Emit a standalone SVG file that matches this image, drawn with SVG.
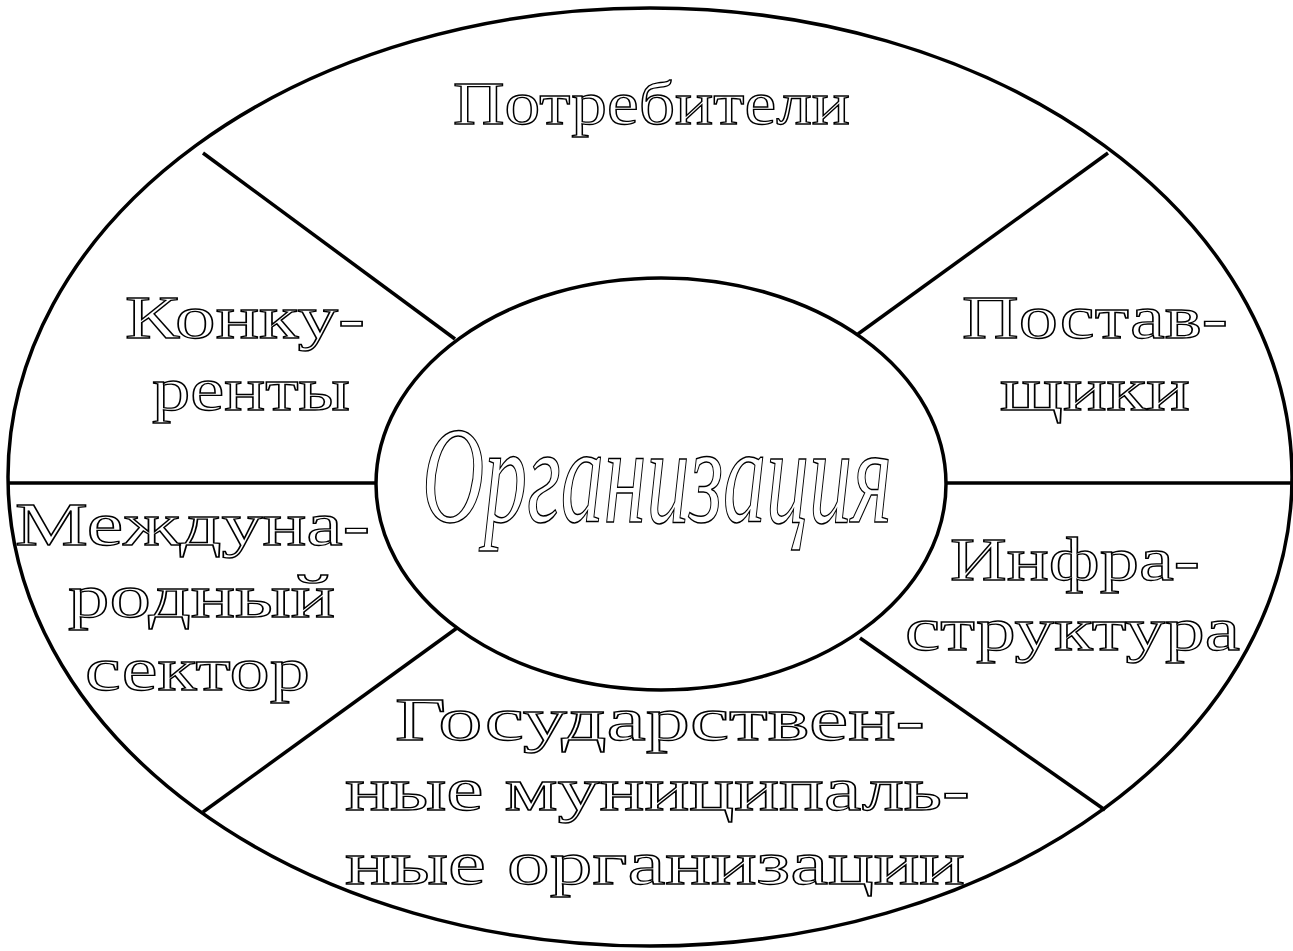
<svg xmlns="http://www.w3.org/2000/svg" width="1293" height="951" viewBox="0 0 1293 951">
<style>
.shape{fill:none;stroke:#000;stroke-width:3.5}
.conn{stroke:#000;stroke-width:3.5;fill:none}
.lbl{font-family:"Liberation Serif","DejaVu Serif",serif;font-size:61px;fill:#fff;stroke:#000;stroke-width:1.3;text-anchor:start}
.big{font-family:"Liberation Serif","DejaVu Serif",serif;font-style:italic;font-size:74px;fill:#fff;stroke:#000;stroke-width:0.8}
</style>
<rect width="1293" height="951" fill="#fff"/>
<g id="outer"><ellipse class="shape" cx="650" cy="477" rx="642" ry="469"/></g>
<g id="connectors">
<line class="conn" x1="203" y1="153" x2="455" y2="339"/>
<line class="conn" x1="1108" y1="153" x2="858" y2="334"/>
<line class="conn" x1="203" y1="812" x2="457" y2="628"/>
<line class="conn" x1="1105" y1="810" x2="860" y2="638"/>
<line class="conn" x1="8" y1="483" x2="377" y2="483"/>
<line class="conn" x1="945" y1="483" x2="1292" y2="483"/>
</g>
<g id="center">
<ellipse class="shape" cx="661" cy="484" rx="285" ry="206" fill="#fff"/>
<text class="big" transform="translate(422,522) scale(1,1.85)" x="0" y="0" textLength="470" lengthAdjust="spacingAndGlyphs">Организация</text>
</g>
<g id="potrebiteli"><text class="lbl" x="453" y="124" textLength="397" lengthAdjust="spacingAndGlyphs">Потребители</text></g>
<g id="konkurenty">
<text class="lbl" x="125" y="338" textLength="240" lengthAdjust="spacingAndGlyphs">Конку-</text>
<text class="lbl" x="152" y="410" textLength="198" lengthAdjust="spacingAndGlyphs">ренты</text>
</g>
<g id="postavshchiki">
<text class="lbl" x="962" y="338" textLength="266" lengthAdjust="spacingAndGlyphs">Постав-</text>
<text class="lbl" x="1000" y="410" textLength="190" lengthAdjust="spacingAndGlyphs">щики</text>
</g>
<g id="mezhdunarodny">
<text class="lbl" x="15" y="545" textLength="355" lengthAdjust="spacingAndGlyphs">Междуна-</text>
<text class="lbl" x="68" y="617" textLength="267" lengthAdjust="spacingAndGlyphs">родный</text>
<text class="lbl" x="85" y="690" textLength="225" lengthAdjust="spacingAndGlyphs">сектор</text>
</g>
<g id="infrastruktura">
<text class="lbl" x="950" y="580" textLength="250" lengthAdjust="spacingAndGlyphs">Инфра-</text>
<text class="lbl" x="905" y="650" textLength="335" lengthAdjust="spacingAndGlyphs">структура</text>
</g>
<g id="gosudarstvennye">
<text class="lbl" x="395" y="740" textLength="530" lengthAdjust="spacingAndGlyphs">Государствен-</text>
<text class="lbl" x="345" y="810" textLength="625" lengthAdjust="spacingAndGlyphs">ные муниципаль-</text>
<text class="lbl" x="345" y="884" textLength="620" lengthAdjust="spacingAndGlyphs">ные организации</text>
</g>
</svg>
